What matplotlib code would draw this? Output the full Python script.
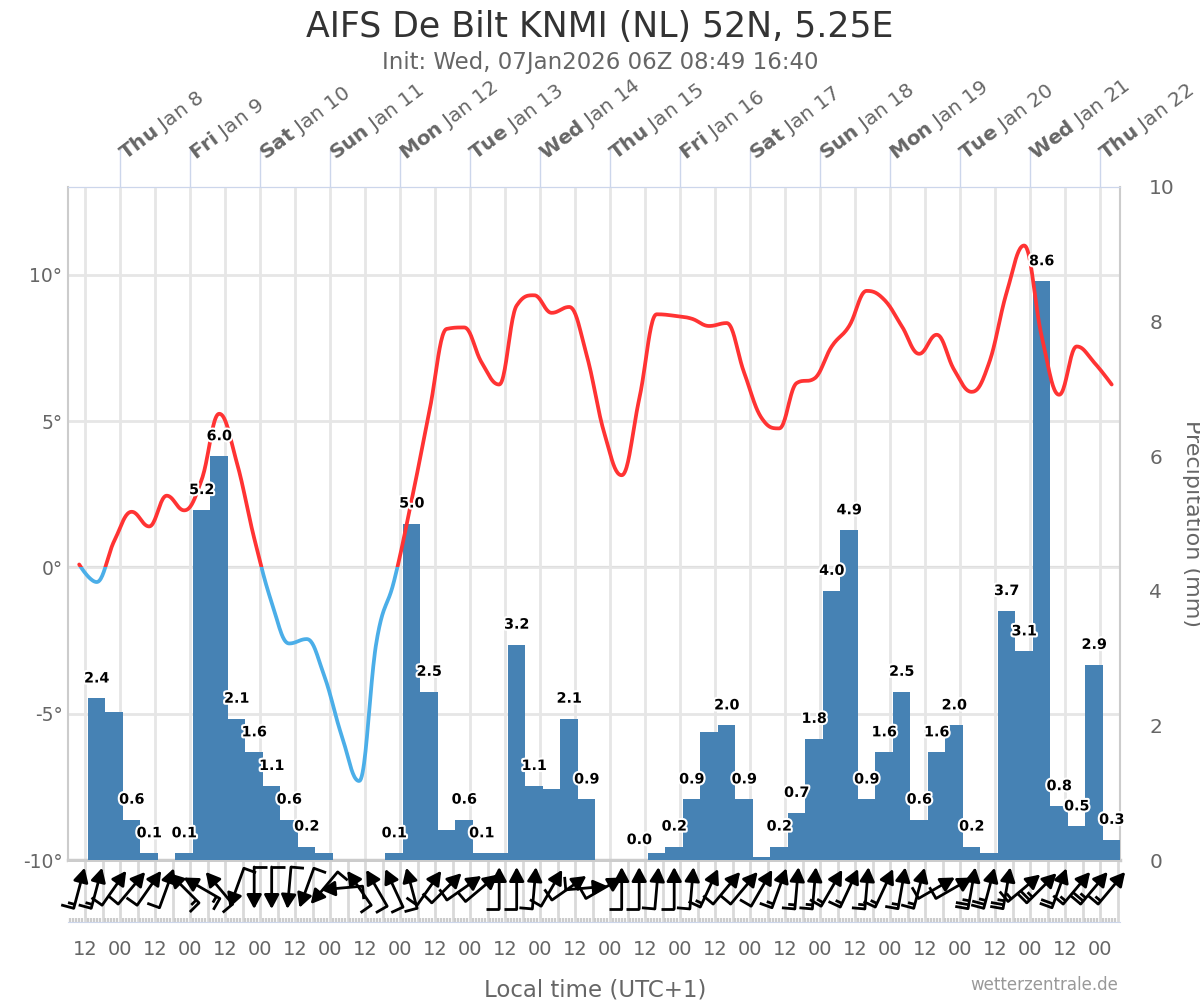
import numpy as np
import pandas as pd
import matplotlib
matplotlib.use("Agg")
import matplotlib.pyplot as plt
import matplotlib.dates as mdates
import matplotlib.patheffects as pe
from matplotlib.patches import Rectangle
from matplotlib.ticker import FuncFormatter

# ---- data (local time, UTC+1) ----
temp_start = "2026-01-07 10:00"   # 6-hourly temperature / wind
temp = [0.1, -0.5, 0.9, 1.9, 1.4, 2.45, 1.95, 3.0, 5.25, 3.6,
        1.0, -1.2, -2.6, -2.45, -3.7, -5.75, -7.3, -2.5, -0.45, 2.3,
        5.3, 8.15, 8.2, 7.0, 6.25, 8.95, 9.3, 8.7, 8.9, 7.25,
        4.6, 3.15, 5.75, 8.65, 8.6, 8.5, 8.25, 8.35, 6.65, 5.1,
        4.75, 6.3, 6.45, 7.55, 8.25, 9.45, 9.15, 8.25, 7.3, 7.95,
        6.75, 6.0, 7.0, 9.4, 11.0, 7.9, 5.9, 7.55, 7.0, 6.25]

precip_start = "2026-01-07 13:00"  # 6-hour accumulation periods
precip = [2.4, 2.2, 0.6, 0.1, None, 0.1, 5.2, 6.0, 2.1, 1.6,
          1.1, 0.6, 0.2, 0.1, None, None, None, 0.1, 5.0, 2.5,
          0.45, 0.6, 0.1, 0.1, 3.2, 1.1, 1.05, 2.1, 0.9, None,
          None, 0.0, 0.1, 0.2, 0.9, 1.9, 2.0, 0.9, 0.05, 0.2,
          0.7, 1.8, 4.0, 4.9, 0.9, 1.6, 2.5, 0.6, 1.6, 2.0,
          0.2, 0.1, 3.7, 3.1, 8.6, 0.8, 0.5, 2.9, 0.3]
# labels that the original chart hides because they overlap
hidden_labels = [1, 13, 20, 23, 26, 32, 35, 38, 51]

# wind direction (deg, blowing from) and barb count (half-barb units)
wind_dir = [195, 195, 215, 220, 215, 200, 135, 120, 140, 20,
            0, 0, 5, 20, 40, 85, 145, 150, 155, 165,
            215, 225, 235, 230, 180, 180, 185, 210, 235, 265,
            240, 180, 180, 185, 180, 185, 205, 220, 220, 210,
            200, 185, 185, 210, 205, 185, 205, 190, 195, 240,
            240, 190, 195, 190, 230, 225, 200, 220, 220, 220]
wind_barbs = [3, 3, 2, 2, 2, 2, 3, 3, 2, 2,
              2, 2, 2, 2, 2, 2, 2, 2, 2, 2,
              2, 2, 2, 2, 2, 2, 2, 2, 2, 2,
              2, 2, 2, 2, 2, 2, 3, 2, 2, 2,
              3, 3, 3, 3, 3, 3, 3, 3, 3, 2,
              2, 5, 5, 5, 3, 5, 4, 3, 5, 3]

title = "AIFS De Bilt KNMI (NL) 52N, 5.25E"
subtitle = "Init: Wed, 07Jan2026 06Z 08:49 16:40"

RED = "#ff3333"
BLUE = "#4baee8"
BAR = "#4682b4"
GREY = "#666666"

t_temp = pd.date_range(temp_start, periods=len(temp), freq="6h")
t_prec = pd.date_range(precip_start, periods=len(precip), freq="6h")
days = pd.date_range("2026-01-08", "2026-01-22", freq="D")

x_temp = mdates.date2num(t_temp)
x_prec = mdates.date2num(t_prec)
xmin = mdates.date2num(pd.Timestamp("2026-01-07 06:10"))
xmax = mdates.date2num(pd.Timestamp("2026-01-22 06:51"))


def hc_spline(x, y, smoothing=1.5, n=24):
    # bezier smoothing in the way highcharts draws a spline series
    denom = smoothing + 1
    m = len(x)
    lc = [None] * m
    rc = [None] * m
    for i in range(1, m - 1):
        px, py = x[i], y[i]
        lx, ly = x[i - 1], y[i - 1]
        nx, ny = x[i + 1], y[i + 1]
        lcx = (smoothing * px + lx) / denom
        lcy = (smoothing * py + ly) / denom
        rcx = (smoothing * px + nx) / denom
        rcy = (smoothing * py + ny) / denom
        corr = (rcy - lcy) * (rcx - px) / (rcx - lcx) + py - rcy
        lcy += corr
        rcy += corr
        if lcy > ly and lcy > py:
            lcy = max(ly, py); rcy = 2 * py - lcy
        elif lcy < ly and lcy < py:
            lcy = min(ly, py); rcy = 2 * py - lcy
        if rcy > ny and rcy > py:
            rcy = max(ny, py); lcy = 2 * py - rcy
        elif rcy < ny and rcy < py:
            rcy = min(ny, py); lcy = 2 * py - rcy
        lc[i] = (lcx, lcy)
        rc[i] = (rcx, rcy)
    t = np.linspace(0, 1, n)[1:]
    xs, ys = [x[0]], [y[0]]
    for i in range(1, m):
        p0 = (x[i - 1], y[i - 1])
        p3 = (x[i], y[i])
        p1 = rc[i - 1] if rc[i - 1] else p0
        p2 = lc[i] if lc[i] else p3
        for k in range(2):
            c = ((1 - t) ** 3 * p0[k] + 3 * (1 - t) ** 2 * t * p1[k]
                 + 3 * (1 - t) * t ** 2 * p2[k] + t ** 3 * p3[k])
            (xs if k == 0 else ys).extend(c)
    return np.array(xs), np.array(ys)


fig = plt.figure(figsize=(12, 10), dpi=100)
L, R, T, B = 68, 1120, 187, 860
ax = fig.add_axes([L / 1200, 1 - B / 1000, (R - L) / 1200, (B - T) / 1000])
ax.set_xlim(xmin, xmax)
ax.set_ylim(-10, 13)

# grid
ax.xaxis.set_major_locator(mdates.HourLocator(byhour=[0, 12]))
ax.grid(axis="x", color="#e6e6e6", lw=2)
ax.set_yticks([-10, -5, 0, 5, 10])
ax.set_yticklabels([f"{v}°" for v in [-10, -5, 0, 5, 10]])
ax.grid(axis="y", color="#e6e6e6", lw=2)
ax.axhline(0, color="#aaaaaa", lw=1.5, zorder=1)
ax.tick_params(axis="x", length=0, labelbottom=False)
ax.tick_params(axis="y", length=0, pad=4, labelsize=13.5, labelcolor=GREY)
for s in ["left", "right", "bottom"]:
    ax.spines[s].set_color("#cccccc")
ax.spines["left"].set_linewidth(1.5)
ax.spines["right"].set_linewidth(1.5)
ax.spines["bottom"].set_linewidth(2.5)
ax.spines["top"].set_color("#ccd6eb")

# precipitation axis
axp = ax.twinx()
axp.set_ylim(0, 10)
axp.set_yticks(range(0, 11, 2))
axp.tick_params(axis="y", length=0, pad=21, labelsize=14.5, labelcolor=GREY)
for s in axp.spines.values():
    s.set_visible(False)

vals = np.array([np.nan if v is None else v for v in precip])
axp.bar(x_prec, vals, width=0.25, align="edge", color=BAR, lw=0, zorder=2)

# temperature line, red above 0 and blue below
sx, sy = hc_spline(x_temp, np.array(temp, dtype=float))
for col, y0 in [(RED, 0), (BLUE, -100)]:
    ln, = axp.plot(sx, sy, color=col, lw=2.7, transform=ax.transData,
                   zorder=3, solid_capstyle="round")
    clip = Rectangle((xmin, y0), xmax - xmin, 100, transform=ax.transData)
    ln.set_clip_path(clip)

# bar labels
for k, v in enumerate(precip):
    if v is None or k in hidden_labels:
        continue
    axp.annotate(f"{v:.1f}", (x_prec[k] + 0.125, v), xytext=(0, 11.5),
                 textcoords="offset points", ha="center", va="baseline",
                 fontsize=10.3, fontweight="bold", color="black", zorder=5,
                 path_effects=[pe.withStroke(linewidth=3, foreground="white")])

# top day axis
sec = ax.secondary_xaxis("top")
sec.set_xticks(mdates.date2num(days))
sec.set_xticklabels([])
sec.tick_params(length=27.4, width=1, color="#ccd6eb")
sec.spines["top"].set_color("#ccd6eb")
for d in days:
    lab = r"$\mathbf{%s}$ Jan %d" % (d.strftime("%a"), d.day)
    ax.annotate(lab, (mdates.date2num(d), 1), xycoords=("data", "axes fraction"),
                xytext=(4, 19), textcoords="offset points", rotation=37,
                rotation_mode="anchor", ha="left", va="baseline",
                fontsize=14.5, color=GREY, annotation_clip=False)

# wind row
wax = fig.add_axes([L / 1200, 1 - 922 / 1000, (R - L) / 1200, 60 / 1000])
wax.set_xlim(xmin, xmax)
wax.set_ylim(0, 60)
wax.set_yticks([])
for s in ["left", "right", "top"]:
    wax.spines[s].set_visible(False)
wax.spines["bottom"].set_color("#ccd6eb")
wax.xaxis.set_major_locator(mdates.HourLocator(byhour=[0, 6, 12, 18]))
wax.xaxis.set_minor_locator(mdates.HourLocator())
wax.xaxis.set_major_formatter(FuncFormatter(
    lambda v, p: mdates.num2date(v).strftime("%H")
    if mdates.num2date(v).hour in (0, 12) else ""))
wax.grid(axis="x", which="major", color="#d9d9d9", lw=2)
wax.tick_params(axis="x", which="major", length=0, pad=13, labelsize=14,
                labelcolor=GREY)
wax.tick_params(axis="x", which="minor", direction="in", length=3,
                width=1.6, color="#cccccc")

px_day = (R - L) / (xmax - xmin)
for xc, wd, nb in zip(x_temp, wind_dir, wind_barbs):
    a = np.radians(wd + 180)
    d = np.array([np.sin(a), np.cos(a)])
    perp = np.array([-d[1], d[0]])
    c = np.array([0.0, 34.0])
    tail = c - 21 * d
    head = c + 21 * d
    to_xy = lambda p: (xc + p[0] / px_day, p[1])
    wax.annotate("", xy=to_xy(head), xytext=to_xy(tail),
                 arrowprops=dict(arrowstyle="-|>,head_length=0.6,head_width=0.32",
                                 mutation_scale=14, lw=2.0, color="black",
                                 shrinkA=0, shrinkB=0),
                 annotation_clip=False)
    nfull, nhalf = nb // 2, nb % 2
    for j, ln_px in enumerate([13] * nfull + [7] * nhalf):
        p0 = tail + j * 4 * d
        p1 = p0 + ln_px * perp
        wax.plot([to_xy(p0)[0], to_xy(p1)[0]], [p0[1], p1[1]], color="black",
                 lw=2.0, clip_on=False, solid_capstyle="butt")

# texts
fig.text(0.5, 1 - 27 / 1000, title, ha="center", va="center", fontsize=25,
         color="#333333")
fig.text(0.5, 1 - 62 / 1000, subtitle, ha="center", va="center", fontsize=16.5,
         color=GREY)
fig.text(1192 / 1200, 1 - 524 / 1000, "Precipitation (mm)", rotation=270,
         ha="center", va="center", fontsize=16, color=GREY)
fig.text(595 / 1200, 1 - 990 / 1000, "Local time (UTC+1)", ha="center",
         va="center", fontsize=16.5, color=GREY)
fig.text(1118 / 1200, 1 - 985 / 1000, "wetterzentrale.de", ha="right",
         va="center", fontsize=12, color="#999999")

fig.savefig("out.png", dpi=100)
